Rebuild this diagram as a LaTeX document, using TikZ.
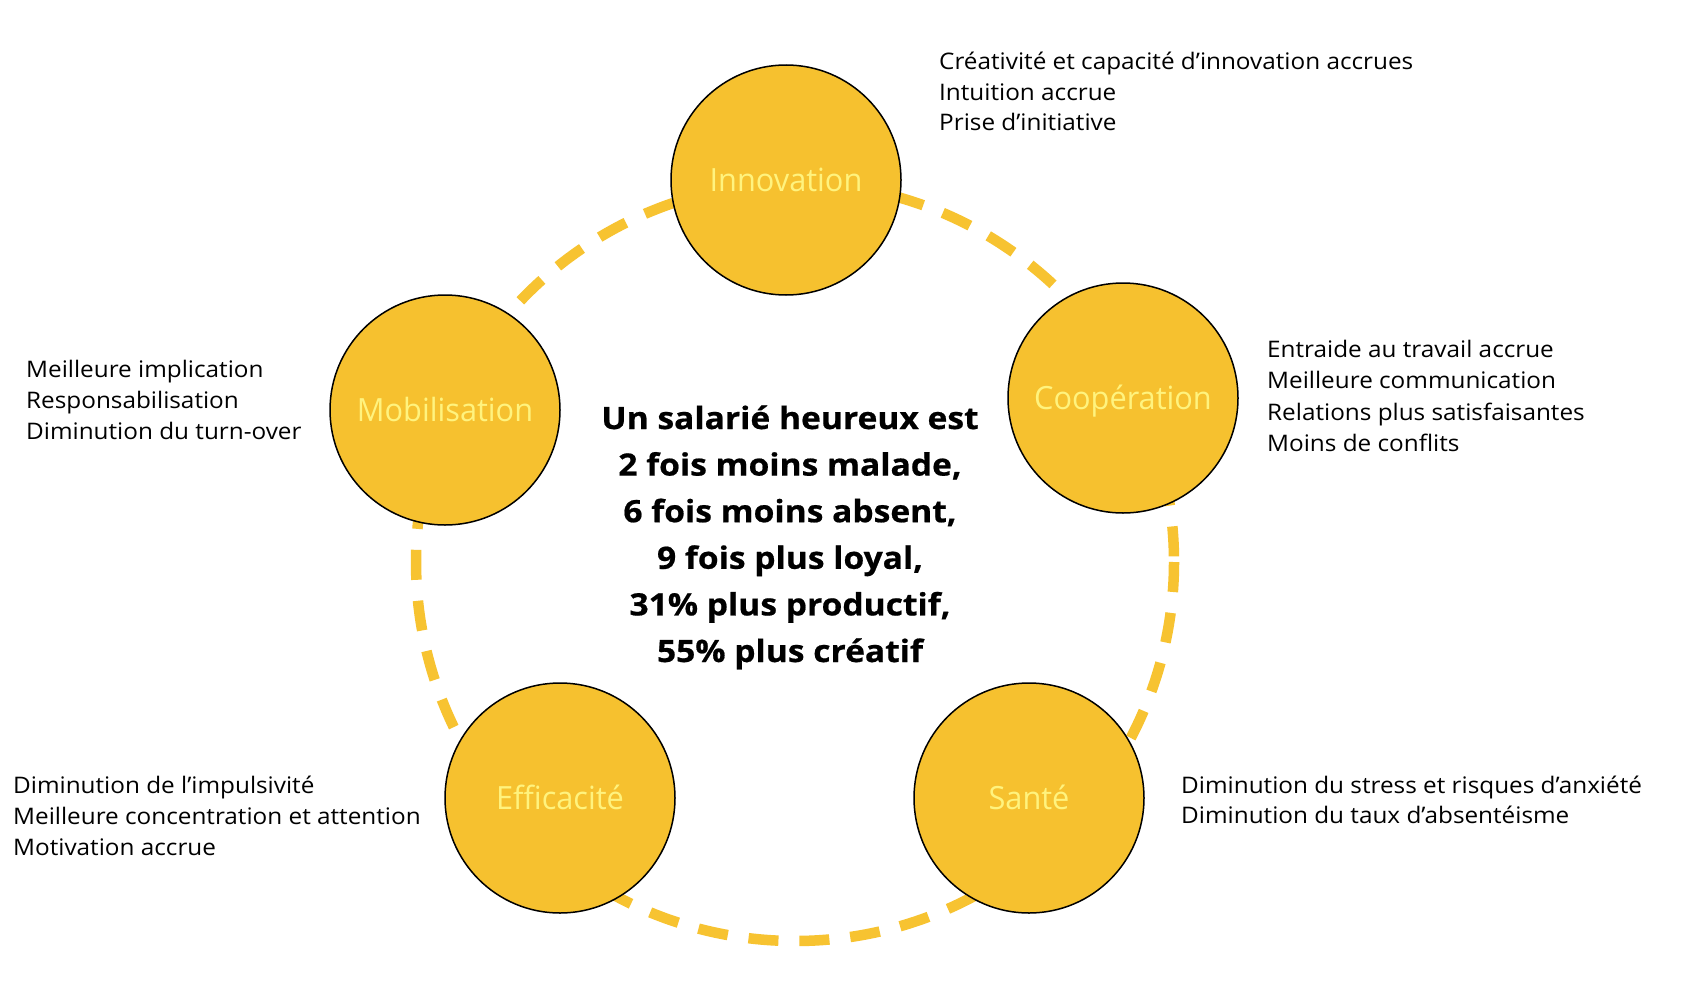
\documentclass[tikz,border=0pt]{standalone}
\usepackage{fontspec}
\setmainfont{Open Sans}
\newfontfamily\sidefam[FakeStretch=1.066]{Open Sans}
\newfontfamily\boldfam[FakeStretch=1.09,FakeBold=0.6]{Open Sans Bold}
\newfontfamily\labfam[FakeStretch=0.96]{Open Sans}
\definecolor{gold}{HTML}{F6C12F}
\definecolor{ringc}{HTML}{F7C331}
\definecolor{lab}{HTML}{FFF37E}
\begin{document}
\begin{tikzpicture}[x=1pt,y=-1pt,
  bub/.style={circle,draw=black,line width=1.5pt,fill=gold,minimum size=230pt,inner sep=0pt,
    text=lab,font=\labfam\fontsize{32}{36}\selectfont,text height=23pt,text depth=0pt},
  ringline/.style={draw=ringc,line width=10.5pt,dash pattern=on 30pt off 21pt},
  side/.style={anchor=base west,inner sep=0pt,font=\sidefam\fontsize{22.8}{31}\selectfont,text=black},
  ctr/.style={anchor=base,inner sep=0pt,font=\boldfam\fontsize{30.8}{46}\selectfont,text=black}]
\useasboundingbox (0,0) rectangle (1696,998);
\fill[white] (0,0) rectangle (1696,998);
\coordinate (rc) at (795,562);
\draw[ringline] (rc) circle (379);
\node[bub] (inn) at (786,180) {Innovation};
\node[bub] (coo) at (1123,398) {Coopération};
\node[bub] (mob) at (445,410) {Mobilisation};
\node[bub] (eff) at (560,798) {Efficacité};
\node[bub] (san) at (1029,798) {Santé};
% center text
\node[ctr] (c1) at (790,429) {Un salarié heureux est};
\node[ctr] (c2) at (790,475.6) {2 fois moins malade,};
\node[ctr] (c3) at (790,522.2) {6 fois moins absent,};
\node[ctr] (c4) at (790,568.8) {9 fois plus loyal,};
\node[ctr] (c5) at (790,615.4) {31\% plus productif,};
\node[ctr] (c6) at (790,662) {55\% plus créatif};
% innovation
\node[side] (i1) at (939,69.3) {Créativité et capacité d’innovation accrues};
\node[side] (i2) at (939,100) {Intuition accrue};
\node[side] (i3) at (939,130.7) {Prise d’initiative};
% cooperation
\node[side] (k1) at (1267,357) {Entraide au travail accrue};
\node[side] (k2) at (1267,388.5) {Meilleure communication};
\node[side] (k3) at (1267,420) {Relations plus satisfaisantes};
\node[side] (k4) at (1267,451.5) {Moins de conflits};
% mobilisation
\node[side] (m1) at (26,377) {Meilleure implication};
\node[side] (m2) at (26,408) {Responsabilisation};
\node[side] (m3) at (26,439) {Diminution du turn-over};
% efficacite
\node[side] (e1) at (13,793) {Diminution de l’impulsivité};
\node[side] (e2) at (13,824) {Meilleure concentration et attention};
\node[side] (e3) at (13,855) {Motivation accrue};
% sante
\node[side] (s1) at (1181,793) {Diminution du stress et risques d’anxiété};
\node[side] (s2) at (1181,823.5) {Diminution du taux d’absentéisme};
\end{tikzpicture}
\end{document}
